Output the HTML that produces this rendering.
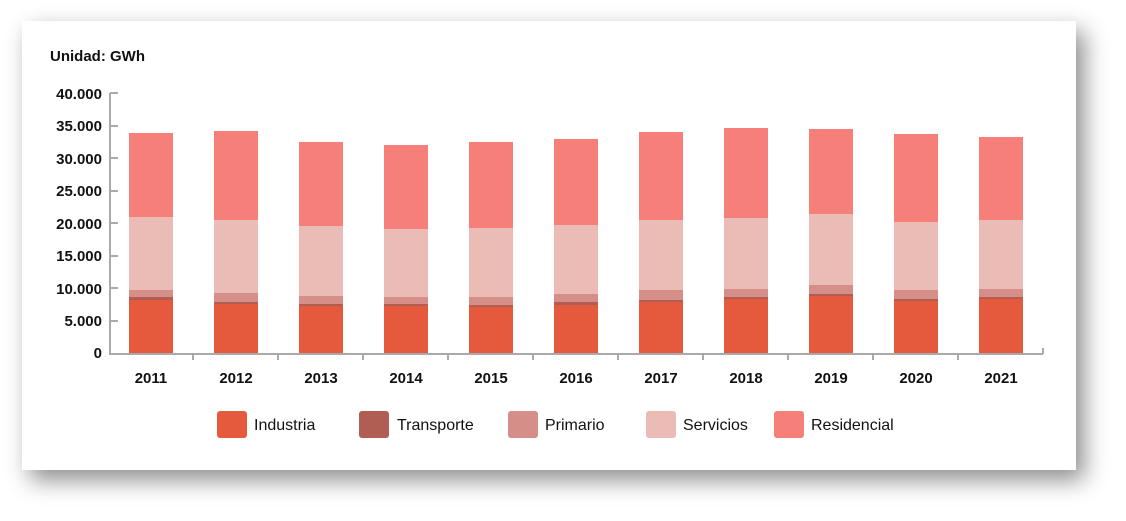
<!DOCTYPE html>
<html><head><style>
body{margin:0;width:1126px;height:521px;background:#fff;overflow:hidden;font-family:"Liberation Sans",sans-serif;}
.card{position:absolute;left:22px;top:21px;width:1054px;height:449px;background:#fff;box-shadow:8px 10px 22px rgba(0,0,0,0.45);}
svg{position:absolute;left:0;top:0}
</style></head><body>
<div class="card"></div>
<svg width="1126" height="521" font-family="Liberation Sans, sans-serif">
<text x="50" y="61" font-size="15" font-weight="bold" fill="#111">Unidad: GWh</text>
<g font-size="15" fill="#111" text-anchor="end" font-weight="bold">
<text x="102" y="99">40.000</text><text x="102" y="131">35.000</text><text x="102" y="164">30.000</text>
<text x="102" y="196">25.000</text><text x="102" y="229">20.000</text><text x="102" y="261">15.000</text>
<text x="102" y="294">10.000</text><text x="102" y="326">5.000</text><text x="102" y="358">0</text>
</g>
<g stroke="#aaa" stroke-width="2" fill="none">
<path d="M110 93V354H1043"/>
<path d="M110 93h8M110 126h8M110 158h8M110 191h8M110 223h8M110 256h8M110 288h8M110 321h8"/>
<path d="M193 354v6M278 354v6M363 354v6M448 354v6M533 354v6M618 354v6M703 354v6M788 354v6M873 354v6M958 354v6M1043 354v-6"/>
</g>
<g id="bars"></g>
<g font-size="15" fill="#111" text-anchor="middle" font-weight="bold" id="xl"></g>
<g font-size="16" fill="#111">
<rect x="217" y="411" width="30" height="27" rx="3" fill="#e55a3c"/><text x="254" y="430">Industria</text>
<rect x="359" y="411" width="30" height="27" rx="3" fill="#b05e54"/><text x="397" y="430">Transporte</text>
<rect x="508" y="411" width="30" height="27" rx="3" fill="#d68f88"/><text x="545" y="430">Primario</text>
<rect x="646" y="411" width="30" height="27" rx="3" fill="#ebbcb6"/><text x="683" y="430">Servicios</text>
<rect x="774" y="411" width="30" height="27" rx="3" fill="#f67f79"/><text x="811" y="430">Residencial</text>
</g>
</svg>
<script>
var d=[[300,297,290,217,133],[304,302,293,220,131],[306,304,296,226,142],[306,304,297,229,145],[307,305,297,228,142],[305,302,294,225,139],[302,300,290,220,132],[299,297,289,218,128],[296,294,285,214,129],[301,299,290,222,134],[299,297,289,220,137]];
var c=["#e55a3c","#b05e54","#d68f88","#ebbcb6","#f67f79"];
var g=document.getElementById('bars'),xl=document.getElementById('xl'),s='',t='';
d.forEach(function(b,i){var cx=151+i*85,x=cx-22,prev=353;
for(var k=0;k<5;k++){s+='<rect x="'+x+'" y="'+b[k]+'" width="44" height="'+(prev-b[k])+'" fill="'+c[k]+'"/>';prev=b[k];}
t+='<text x="'+cx+'" y="383">'+(2011+i)+'</text>';});
g.innerHTML=s;xl.innerHTML=t;
</script>
</body></html>
